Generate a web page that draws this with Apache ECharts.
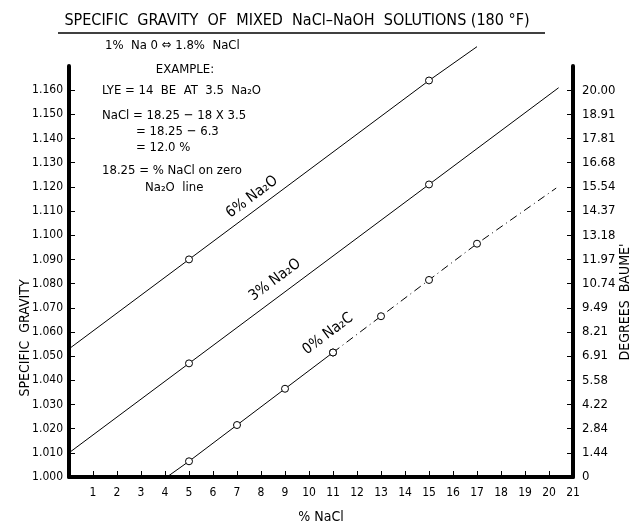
<!DOCTYPE html>
<html>
<head>
<meta charset="utf-8">
<script src="https://cdn.jsdelivr.net/npm/echarts@6/dist/echarts.min.js"></script>
<style>
    html, body { margin: 0; padding: 0; background: #fff; }
    #chart1 { width: 642px; height: 527px; }
</style>
</head>
<body>
<div id="chart1"></div>
<script>
// Ticks del eje izquierdo (gravedad especifica) y su equivalente en grados Baume
var sgTicks = [1.000, 1.010, 1.020, 1.030, 1.040, 1.050, 1.060, 1.070, 1.080,
    1.090, 1.100, 1.110, 1.120, 1.130, 1.140, 1.150, 1.160];
var baumeLabels = ['0', '1.44', '2.84', '4.22', '5.58', '6.91', '8.21', '9.49', '10.74',
    '11.97', '13.18', '14.37', '15.54', '16.68', '17.81', '18.91', '20.00'];

// Lineas: [% NaCl, gravedad especifica]
var line6 = [[0, 1.053], [5, 1.090], [15, 1.164], [17.0, 1.178]];
var line3 = [[0, 1.010], [5, 1.047], [15, 1.121], [20.4, 1.161]];
var line0Solid = [[4.08, 1.000], [5, 1.0065], [7, 1.0215], [9, 1.0365], [11, 1.0515]];
var line0Dash = [[11, 1.0515], [13, 1.0665], [15, 1.0815], [17, 1.0965], [20.3, 1.1195]];

// puntos marcados con circulo
var marked6 = [5, 15];
var marked3 = [5, 15];
var marked0 = [5, 7, 9, 11, 13, 15, 17];

var FONT = "'DejaVu Sans Condensed', 'Liberation Sans Narrow', 'DejaVu Sans', sans-serif";

function toData(points, marked) {
    return points.map(function (p) {
        var item = { value: p };
        if (marked.indexOf(p[0]) < 0) {
            item.symbol = 'none';
        }
        return item;
    });
}

function txt(x, y, text, size, align, rotation) {
    var el = {
        type: 'text', x: x, y: y,
        style: { text: text, font: size + 'px ' + FONT, fill: '#000', textAlign: align || 'left', textVerticalAlign: 'middle' }
    };
    if (rotation) el.rotation = rotation;
    return el;
}

var chart1 = echarts.init(document.getElementById('chart1'));

var lineBase = {
    type: 'line',
    clip: false,
    symbol: 'circle',
    symbolSize: 7,
    showAllSymbol: true,
    itemStyle: { color: '#fff', borderColor: '#000', borderWidth: 1 },
    lineStyle: { color: '#000', width: 1 },
    emphasis: { disabled: true },
    animation: false
};

var rot = 36.8 * Math.PI / 180;

var option1 = {
    backgroundColor: '#fff',
    animation: false,
    grid: { left: 69, right: 69, top: 66, bottom: 50, containLabel: false, outerBoundsMode: 'none' },
    xAxis: {
        type: 'value',
        min: 0,
        max: 21,
        interval: 1,
        name: '% NaCl',
        nameLocation: 'middle',
        nameGap: 33,
        nameTextStyle: { color: '#000', fontSize: 14, fontFamily: FONT },
        axisLine: { lineStyle: { color: '#000', width: 4 } },
        axisTick: { inside: true, length: 6, lineStyle: { color: '#000', width: 1 } },
        axisLabel: {
            color: '#000', fontSize: 12, fontFamily: FONT, margin: 10,
            formatter: function (v) { return v === 0 ? '' : String(v); }
        },
        splitLine: { show: false }
    },
    yAxis: [{
        type: 'value',
        min: 1.0,
        max: 1.17,
        position: 'left',
        axisLine: { show: true, lineStyle: { color: '#000', width: 4 } },
        axisTick: { show: true, inside: true, length: 6, customValues: sgTicks, lineStyle: { color: '#000', width: 1 } },
        axisLabel: {
            color: '#000', fontSize: 12, fontFamily: FONT, margin: 6,
            customValues: sgTicks,
            formatter: function (v) { return v.toFixed(3); }
        },
        splitLine: { show: false }
    }, {
        type: 'value',
        min: 1.0,
        max: 1.17,
        position: 'right',
        axisLine: { show: true, lineStyle: { color: '#000', width: 4 } },
        axisTick: { show: true, inside: true, length: 6, customValues: sgTicks, lineStyle: { color: '#000', width: 1 } },
        axisLabel: {
            color: '#000', fontSize: 13, fontFamily: FONT, margin: 9,
            customValues: sgTicks,
            formatter: function (v) { return baumeLabels[Math.round((v - 1) * 100)]; }
        },
        splitLine: { show: false }
    }],
    series: [
        Object.assign({}, lineBase, { name: '6%', data: toData(line6, marked6) }),
        Object.assign({}, lineBase, { name: '3%', data: toData(line3, marked3) }),
        Object.assign({}, lineBase, { name: '0%', data: toData(line0Solid, marked0) }),
        Object.assign({}, lineBase, {
            name: '0% dash', data: toData(line0Dash, marked0),
            lineStyle: { color: '#000', width: 1, type: [8, 4, 1, 4] }
        })
    ],
    graphic: [
        // titulo subrayado
        txt(297, 21, 'SPECIFIC  GRAVITY  OF  MIXED  NaCl–NaOH  SOLUTIONS (180 °F)', 16, 'center'),
        { type: 'line', shape: { x1: 58, y1: 33, x2: 545, y2: 33 }, style: { stroke: '#000', lineWidth: 1.5 } },
        // notas del ejemplo
        txt(105, 46, '1%  Na 0 ⇔ 1.8%  NaCl', 13),
        txt(185, 70, 'EXAMPLE:', 13, 'center'),
        txt(102, 91, 'LYE = 14  BE  AT  3.5  Na₂O', 13),
        txt(102, 116, 'NaCl = 18.25 − 18 X 3.5', 13),
        txt(136, 132, '= 18.25 − 6.3', 13),
        txt(136, 148, '= 12.0 %', 13),
        txt(102, 171, '18.25 = % NaCl on zero', 13),
        txt(145, 188, 'Na₂O  line', 13),
        // etiquetas de las lineas
        txt(252, 197, '6% Na₂O', 15, 'center', rot),
        txt(275, 280, '3% Na₂O', 15, 'center', rot),
        txt(328, 334, '0% Na₂C', 15, 'center', rot),
        // nombres de los ejes verticales
        txt(25, 338, 'SPECIFIC  GRAVITY', 14, 'center', Math.PI / 2),
        txt(625, 302, "DEGREES  BAUME'", 14, 'center', Math.PI / 2)
    ]
};

chart1.setOption(option1);
</script>
</body>
</html>
